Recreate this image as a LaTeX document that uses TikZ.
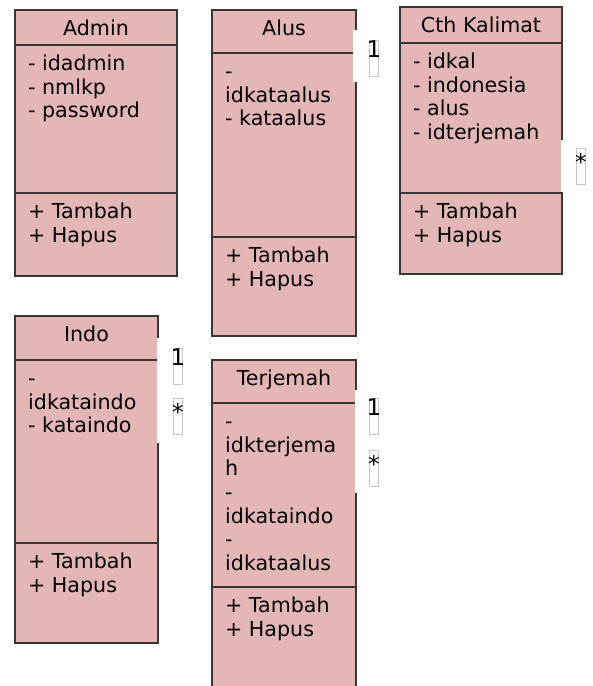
\documentclass[tikz,border=0pt]{standalone}
\usepackage{fontspec}
\setmainfont{DejaVu Sans}
\usetikzlibrary{positioning}
\definecolor{clspink}{RGB}{228,182,182}
\definecolor{clsline}{RGB}{55,55,55}

\begin{document}
\begin{tikzpicture}[x=1pt,y=-1pt,
    part/.style 2 args={draw=clsline, fill=clspink, line width=1.4pt, inner sep=0pt, outer sep=0pt,
        minimum width=#1pt, minimum height=#2pt},
    title/.style={anchor=north, inner xsep=0pt, inner ysep=8.5pt, font=\fontsize{20.6}{23.6}\selectfont},
    items/.style={anchor=north west, align=left, inner xsep=13pt, inner ysep=9pt, font=\fontsize{20.6}{23.6}\selectfont},
    gap/.style={white},
    onelbl/.style={anchor=north west, draw=black!22, line width=0.7pt, inner sep=0pt, minimum width=9pt,
        text height=17.5pt, text depth=18.5pt, font=\fontsize{23}{27}\selectfont},
    manylbl/.style={onelbl, text height=22pt, text depth=14pt}]
    \useasboundingbox (0,0) rectangle (593,686);
    %classes
    \node[part={162}{35}, anchor=north west] (admin) at (15,10) {};
    \node[part={162}{148}, below=0pt of admin] (admin-attr) {};
    \node[part={162}{83}, below=0pt of admin-attr] (admin-op) {};
    \node[part={144}{43}, anchor=north west] (alus) at (212,10) {};
    \node[part={144}{184}, below=0pt of alus] (alus-attr) {};
    \node[part={144}{99}, below=0pt of alus-attr] (alus-op) {};
    \node[part={162}{36}, anchor=north west] (cth) at (400,7) {};
    \node[part={162}{150}, below=0pt of cth] (cth-attr) {};
    \node[part={162}{81}, below=0pt of cth-attr] (cth-op) {};
    \node[part={143}{44}, anchor=north west] (indo) at (15,316) {};
    \node[part={143}{183}, below=0pt of indo] (indo-attr) {};
    \node[part={143}{100}, below=0pt of indo-attr] (indo-op) {};
    \node[part={144}{43}, anchor=north west] (terj) at (212,360) {};
    \node[part={144}{184}, below=0pt of terj] (terj-attr) {};
    \node[part={144}{105}, below=0pt of terj-attr] (terj-op) {};
    %texts
    \node[title] (admin-name) at (admin.north) {\strut Admin};
    \node[items] (admin-attrs) at (admin-attr.north west) {\strut- idadmin\\- nmlkp\\- password};
    \node[items] (admin-ops) at (admin-op.north west) {\strut+ Tambah\\+ Hapus};
    \node[title] (alus-name) at (alus.north) {\strut Alus};
    \node[items] (alus-attrs) at (alus-attr.north west) {\strut-\\idkataalus\\- kataalus};
    \node[items] (alus-ops) at (alus-op.north west) {\strut+ Tambah\\+ Hapus};
    \node[title] (cth-name) at (cth.north) {\strut Cth Kalimat};
    \node[items] (cth-attrs) at (cth-attr.north west) {\strut- idkal\\- indonesia\\- alus\\- idterjemah};
    \node[items] (cth-ops) at (cth-op.north west) {\strut+ Tambah\\+ Hapus};
    \node[title] (indo-name) at (indo.north) {\strut Indo};
    \node[items] (indo-attrs) at (indo-attr.north west) {\strut-\\idkataindo\\- kataindo};
    \node[items] (indo-ops) at (indo-op.north west) {\strut+ Tambah\\+ Hapus};
    \node[title] (terj-name) at (terj.north) {\strut Terjemah};
    \node[items] (terj-attrs) at (terj-attr.north west) {\strut-\\idkterjema\\h\\-\\idkataindo\\-\\idkataalus};
    \node[items] (terj-ops) at (terj-op.north west) {\strut+ Tambah\\+ Hapus};
    %label backgrounds
    \fill[gap] (353,30) rectangle (366,82);
    \fill[gap] (561.2,140) rectangle (572,191.5);
    \fill[gap] (157.2,338) rectangle (168,443);
    \fill[gap] (355.2,390) rectangle (366,493);
    %multiplicities
    \node[onelbl] (alus-one) at (369,40) {\makebox[9pt]{1}};
    \node[manylbl] (cth-many) at (576,148) {\makebox[9pt]{*}};
    \node[onelbl] (indo-one) at (173,348) {\makebox[9pt]{1}};
    \node[manylbl] (indo-many) at (173,398) {\makebox[9pt]{*}};
    \node[onelbl] (terj-one) at (369,398) {\makebox[9pt]{1}};
    \node[manylbl] (terj-many) at (369,450) {\makebox[9pt]{*}};
\end{tikzpicture}
\end{document}
